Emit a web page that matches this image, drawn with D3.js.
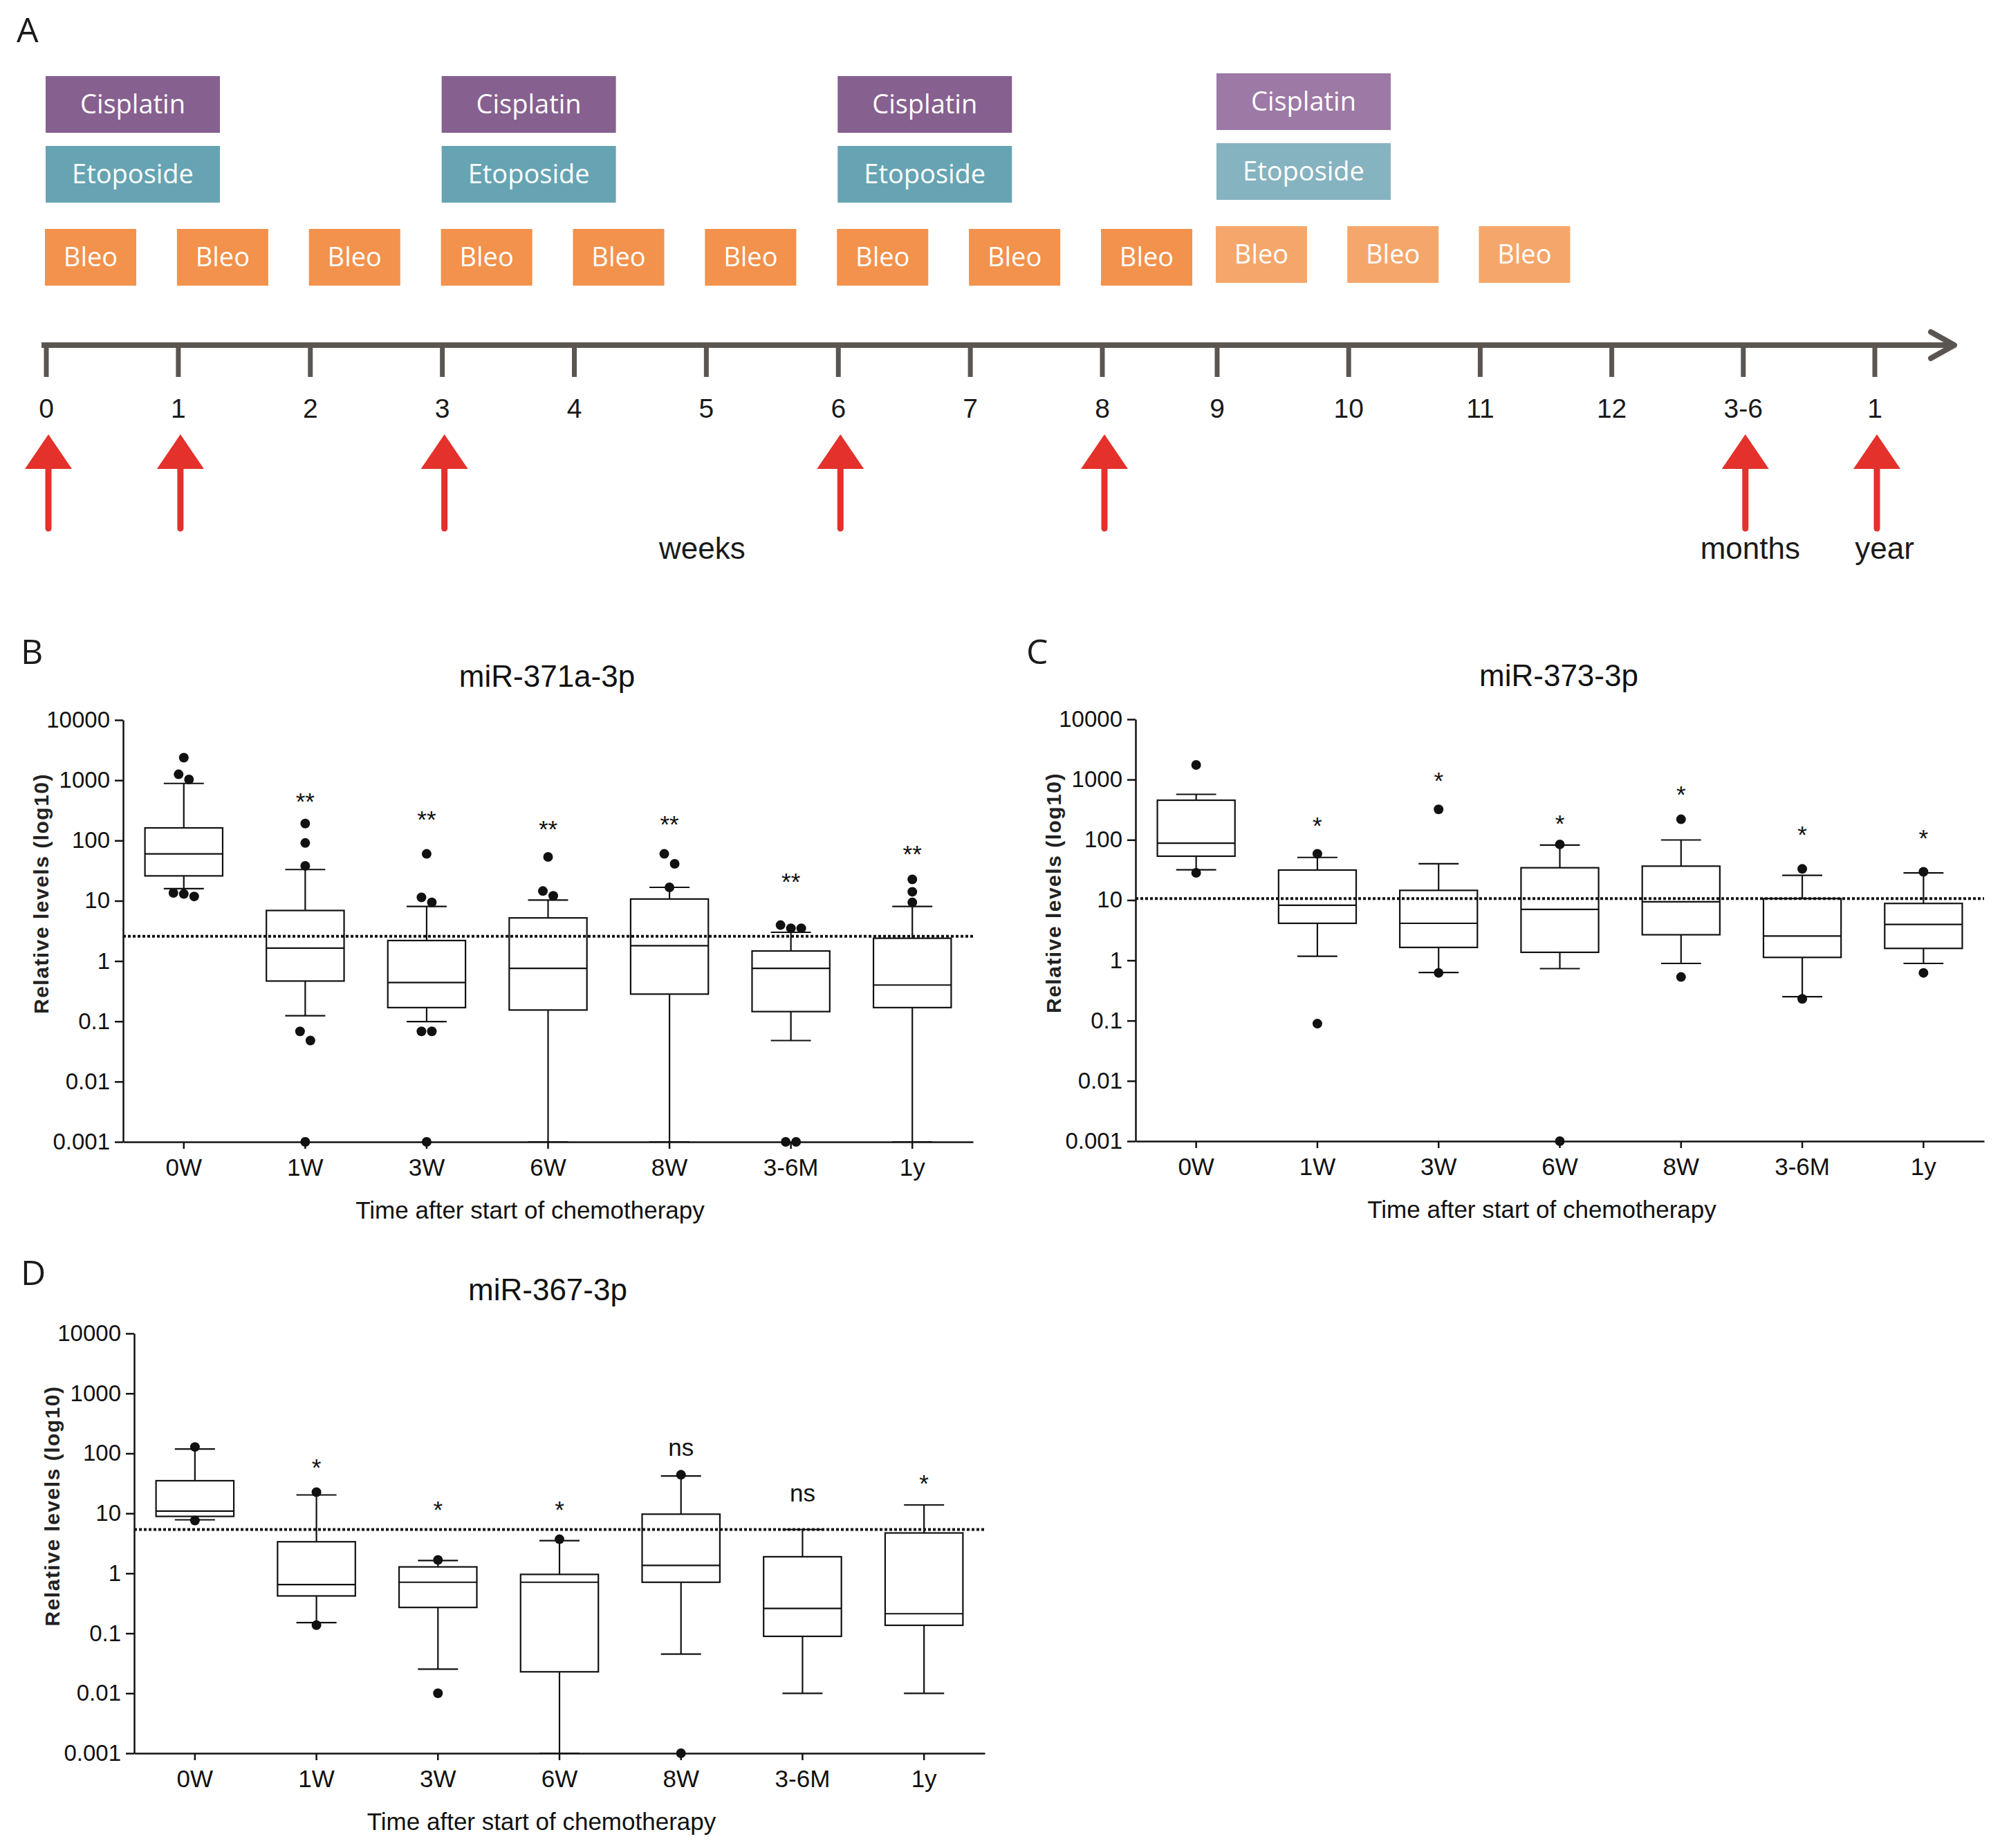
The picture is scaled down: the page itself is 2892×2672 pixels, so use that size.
<!DOCTYPE html>
<html>
<head>
<meta charset="utf-8">
<script src="https://cdn.jsdelivr.net/npm/d3@7"></script>
<style>
  html, body { margin: 0; padding: 0; background: #fff; }
  svg { display: block; }
</style>
</head>
<body>
<svg id="fig" width="2892" height="2672"></svg>
<script>
// --- 1. Data ---

// Panel A: treatment schedule
const timeLabels = ["0", "1", "2", "3", "4", "5", "6", "7", "8", "9", "10", "11", "12", "3-6", "1"];
const cisplatinWeeks = [0, 3, 6, 9];
const etoposideWeeks = [0, 3, 6, 9];
const bleoWeeks = [0, 1, 2, 3, 4, 5, 6, 7, 8, 9, 10, 11];
const sampleTimes = [0, 1, 3, 6, 8, 13, 14];   // index into timeLabels
const unitNames = ["weeks", "months", "year"];
const unitAt = [5, 13, 14];

// Panels B-D: box plots, [whisker low, Q1, median, Q3, whisker high]
const groups = ["0W", "1W", "3W", "6W", "8W", "3-6M", "1y"];
const yTicks = [0.001, 0.01, 0.1, 1, 10, 100, 1000, 10000];

const mir371Box = [
  [15.9, 25.9, 60, 162, 885],
  [0.124, 0.466, 1.64, 6.9, 33],
  [0.099, 0.169, 0.44, 2.19, 8.05],
  [0.001, 0.154, 0.757, 5.2, 10.3],
  [0.001, 0.283, 1.8, 10.7, 16.7],
  [0.048, 0.145, 0.757, 1.47, 3.0],
  [0.001, 0.169, 0.40, 2.39, 8.05]
];
const mir371Out = [
  [2370, 1254, 1030, 13.5, 11.8, 13],
  [191, 91, 38, 0.068, 0.048, 0.001],
  [60, 11.4, 9.4, 0.068, 0.068, 0.001],
  [53.5, 14.5, 12.1],
  [60, 41, 16.7],
  [3.5, 3.5, 3.95, 0.001, 0.001],
  [22.6, 14.1, 9.4]
];
const mir371Sig = ["", "**", "**", "**", "**", "**", "**"];
const mir371SigAt = [null, 561, 284, 194, 233, 26, 76];
const mir371Cut = 2.58;

const mir373Box = [
  [31.9, 53.5, 88, 454, 569],
  [1.17, 4.12, 8.2, 31.5, 51],
  [0.63, 1.64, 4.12, 14.5, 40],
  [0.73, 1.36, 7.0, 34.4, 81.8],
  [0.89, 2.66, 9.35, 36.6, 99.5],
  [0.249, 1.12, 2.54, 10.6, 25.8],
  [0.89, 1.58, 3.94, 8.8, 28.3]
];
const mir373Out = [
  [1750, 28.3],
  [58.6, 0.089],
  [320, 0.62],
  [84, 0.001],
  [219, 0.53],
  [32.9, 0.23],
  [29.5, 0.62]
];
const mir373Sig = ["", "*", "*", "*", "*", "*", "*"];
const mir373SigAt = [null, 219, 1216, 236, 704, 155, 133];
const mir373Cut = 10.6;

const mir367Box = [
  [7.8, 8.9, 10.9, 35, 118],
  [0.151, 0.42, 0.65, 3.36, 20.3],
  [0.0253, 0.27, 0.71, 1.28, 1.63],
  [0.001, 0.0228, 0.71, 0.96, 3.5],
  [0.045, 0.71, 1.36, 9.7, 41.9],
  [0.01, 0.089, 0.26, 1.89, 5.38],
  [0.01, 0.136, 0.212, 4.71, 13.8]
];
const mir367Out = [
  [128, 7.6],
  [22.6, 0.137],
  [1.67, 0.01],
  [3.7],
  [44, 0.001],
  [],
  []
];
const mir367Sig = ["", "*", "*", "*", "ns", "ns", "*"];
const mir367SigAt = [null, 74.5, 14.7, 14.7, 116, 20.3, 39.5];
const mir367Cut = 5.38;

// --- 2. Setup ---

const svg = d3.select("#fig");
svg.append("rect").attr("width", 2892).attr("height", 2672).attr("fill", "#fff");

const chartFont = "'Liberation Sans', Arial, sans-serif";
const boxFont = "'Open Sans', 'Noto Sans', sans-serif";

function panelLetter(letter, x, y) {
  svg.append("text")
    .attr("x", x).attr("y", y)
    .attr("font-family", boxFont)
    .attr("font-size", 50)
    .attr("fill", "#1a1a1a")
    .text(letter);
}

// --- 3. Panel A: timeline ---

panelLetter("A", 24, 61);

const tx = d3.scaleLinear()
  .domain([0, 8, 9, 14])
  .range([67, 1594, 1760, 2711]);

const lineCol = "#5a5550";
const gA = svg.append("g");

// main line + arrow
gA.append("line")
  .attr("x1", 60).attr("x2", 2824)
  .attr("y1", 499).attr("y2", 499)
  .attr("stroke", lineCol).attr("stroke-width", 8);
gA.append("path")
  .attr("d", "M2792,480 L2826,499 L2792,518")
  .attr("fill", "none")
  .attr("stroke", lineCol).attr("stroke-width", 8)
  .attr("stroke-linecap", "round").attr("stroke-linejoin", "round");

gA.selectAll(".tick")
  .data(timeLabels)
  .enter().append("line")
  .attr("x1", (d, i) => tx(i)).attr("x2", (d, i) => tx(i))
  .attr("y1", 499).attr("y2", 545)
  .attr("stroke", lineCol).attr("stroke-width", 7);

gA.selectAll(".tlab")
  .data(timeLabels)
  .enter().append("text")
  .attr("x", (d, i) => tx(i))
  .attr("y", 604)
  .attr("text-anchor", "middle")
  .attr("font-family", chartFont)
  .attr("font-size", 39)
  .attr("fill", "#1a1a1a")
  .text(d => d);

// drug boxes
function drugRow(weeks, name, top, wide, col, colLight) {
  const w = wide ? 252 : 132;
  const dx = wide ? -1 : -2;
  const row = gA.selectAll(".r" + name)
    .data(weeks)
    .enter().append("g")
    .attr("transform", d => `translate(${tx(d) + dx},${top - (d >= 9 ? 4 : 0)})`);
  row.append("rect")
    .attr("width", w).attr("height", 82)
    .attr("fill", d => d >= 9 ? colLight : col);
  row.append("text")
    .attr("x", w / 2).attr("y", 41)
    .attr("dy", "0.35em")
    .attr("text-anchor", "middle")
    .attr("font-family", boxFont)
    .attr("font-size", 38)
    .attr("fill", "#fff")
    .text(name);
}
drugRow(cisplatinWeeks, "Cisplatin", 110, true, "#86608f", "#9d79a5");
drugRow(etoposideWeeks, "Etoposide", 211, true, "#66a4b3", "#86b3c0");
drugRow(bleoWeeks, "Bleo", 331, false, "#f2924c", "#f5a76b");

// sampling arrows
const red = "#e4312b";
const arr = gA.selectAll(".arrow")
  .data(sampleTimes)
  .enter().append("g")
  .attr("transform", d => `translate(${tx(d) + 3},0)`);
arr.append("line")
  .attr("x1", 0).attr("x2", 0)
  .attr("y1", 670).attr("y2", 764)
  .attr("stroke", red).attr("stroke-width", 9)
  .attr("stroke-linecap", "round");
arr.append("path")
  .attr("d", "M-34,678 L0,628 L34,678 Z")
  .attr("fill", red);

gA.selectAll(".unit")
  .data(unitNames)
  .enter().append("text")
  .attr("x", (d, i) => tx(unitAt[i]) + [-6, 10, 14][i])
  .attr("y", 808)
  .attr("text-anchor", "middle")
  .attr("font-family", chartFont)
  .attr("font-size", 44)
  .attr("fill", "#1a1a1a")
  .text(d => d);

// --- 4. Panels B-D: box plots ---

const fmtTick = d => d >= 1 ? d3.format("d")(d) : String(d);

function spreadDots(vals, y) {
  // place overlapping dots side by side
  const pts = vals.map(v => ({ v, py: y(v) })).sort((a, b) => a.py - b.py);
  const clusters = [];
  pts.forEach(p => {
    const last = clusters[clusters.length - 1];
    if (last && p.py - last[last.length - 1].py < 15) last.push(p);
    else clusters.push([p]);
  });
  clusters.forEach(c => c.forEach((p, i) => { p.off = (i - (c.length - 1) / 2) * 15; }));
  return pts;
}

function drawBoxPanel(cfg) {
  panelLetter(cfg.letter, cfg.lx, cfg.ly);

  const g = svg.append("g");
  const x = d3.scaleBand().domain(groups).range([cfg.x0, cfg.x1]);
  const y = d3.scaleLog().domain([0.001, 10000]).range([cfg.yBot, cfg.yTop]);
  const bw = x.bandwidth() * 0.64;
  const cw = x.bandwidth() * 0.33;

  // title
  g.append("text")
    .attr("x", cfg.tx).attr("y", cfg.yTop - 63)
    .attr("dy", "0.35em")
    .attr("text-anchor", "middle")
    .attr("font-family", chartFont)
    .attr("font-size", 44)
    .attr("fill", "#111")
    .text(cfg.title);

  // axes
  const yAxis = d3.axisLeft(y)
    .tickValues(yTicks).tickFormat(fmtTick)
    .tickSize(12).tickSizeOuter(0).tickPadding(7);
  const xAxis = d3.axisBottom(x)
    .tickSize(10).tickSizeOuter(0).tickPadding(14);

  const ya = g.append("g").attr("transform", `translate(${cfg.x0},0)`).call(yAxis);
  const xa = g.append("g").attr("transform", `translate(0,${cfg.yBot})`).call(xAxis);
  [ya, xa].forEach(a => {
    a.selectAll("path, line").attr("stroke", "#111").attr("stroke-width", 2.5);
    a.selectAll("text").attr("font-family", chartFont).attr("fill", "#111");
  });
  ya.selectAll("text").attr("font-size", 33);
  xa.selectAll("text").attr("font-size", 35);

  // axis titles
  g.append("text")
    .attr("transform", `translate(${cfg.x0 - 119},${(cfg.yTop + cfg.yBot) / 2 - 54}) rotate(-90)`)
    .attr("dy", "0.35em")
    .attr("text-anchor", "middle")
    .attr("font-family", chartFont)
    .attr("font-size", 30)
    .attr("font-weight", "bold")
    .attr("letter-spacing", 1.5)
    .attr("fill", "#222")
    .text("Relative levels (log10)");
  g.append("text")
    .attr("x", (cfg.x0 + cfg.x1) / 2 - 26)
    .attr("y", cfg.yBot + 99)
    .attr("dy", "0.35em")
    .attr("text-anchor", "middle")
    .attr("font-family", chartFont)
    .attr("font-size", 35)
    .attr("fill", "#111")
    .text("Time after start of chemotherapy");

  // cutoff
  g.append("line")
    .attr("x1", cfg.x0).attr("x2", cfg.x1)
    .attr("y1", y(cfg.cut)).attr("y2", y(cfg.cut))
    .attr("stroke", "#111").attr("stroke-width", 4)
    .attr("stroke-dasharray", "4,3");

  // boxes
  const box = g.selectAll(".box")
    .data(cfg.box)
    .enter().append("g")
    .attr("transform", (d, i) => `translate(${x(groups[i]) + x.bandwidth() / 2},0)`);

  const st = s => s.attr("stroke", "#111").attr("stroke-width", 2.2).attr("fill", "none");
  box.append("line").attr("y1", d => y(d[0])).attr("y2", d => y(d[1])).call(st);
  box.append("line").attr("y1", d => y(d[3])).attr("y2", d => y(d[4])).call(st);
  box.append("line").attr("x1", -cw / 2).attr("x2", cw / 2)
    .attr("y1", d => y(d[0])).attr("y2", d => y(d[0])).call(st);
  box.append("line").attr("x1", -cw / 2).attr("x2", cw / 2)
    .attr("y1", d => y(d[4])).attr("y2", d => y(d[4])).call(st);
  box.append("rect")
    .attr("x", -bw / 2).attr("width", bw)
    .attr("y", d => y(d[3]))
    .attr("height", d => y(d[1]) - y(d[3]))
    .call(st);
  box.append("line").attr("x1", -bw / 2).attr("x2", bw / 2)
    .attr("y1", d => y(d[2])).attr("y2", d => y(d[2])).call(st);

  // outliers
  box.each(function (d, i) {
    d3.select(this).selectAll("circle")
      .data(spreadDots(cfg.out[i], y))
      .enter().append("circle")
      .attr("cx", p => p.off)
      .attr("cy", p => p.py)
      .attr("r", 7)
      .attr("fill", "#111");
  });

  // significance
  box.append("text")
    .attr("y", (d, i) => cfg.sigAt[i] == null ? 0 : y(cfg.sigAt[i]))
    .attr("dy", (d, i) => cfg.sig[i] === "ns" ? "0.26em" : "0.6em")
    .attr("text-anchor", "middle")
    .attr("font-family", chartFont)
    .attr("font-size", 35)
    .attr("fill", "#111")
    .text((d, i) => cfg.sig[i]);
}

drawBoxPanel({
  letter: "B", lx: 30, ly: 960, title: "miR-371a-3p", tx: 791,
  x0: 178, x1: 1407, yTop: 1041, yBot: 1651,
  box: mir371Box, out: mir371Out, sig: mir371Sig, sigAt: mir371SigAt, cut: mir371Cut
});
drawBoxPanel({
  letter: "C", lx: 1484, ly: 960, title: "miR-373-3p", tx: 2254,
  x0: 1642, x1: 2869, yTop: 1040, yBot: 1650,
  box: mir373Box, out: mir373Out, sig: mir373Sig, sigAt: mir373SigAt, cut: mir373Cut
});
drawBoxPanel({
  letter: "D", lx: 30, ly: 1858, title: "miR-367-3p", tx: 792,
  x0: 194, x1: 1424, yTop: 1928, yBot: 2535,
  box: mir367Box, out: mir367Out, sig: mir367Sig, sigAt: mir367SigAt, cut: mir367Cut
});
</script>
</body>
</html>
